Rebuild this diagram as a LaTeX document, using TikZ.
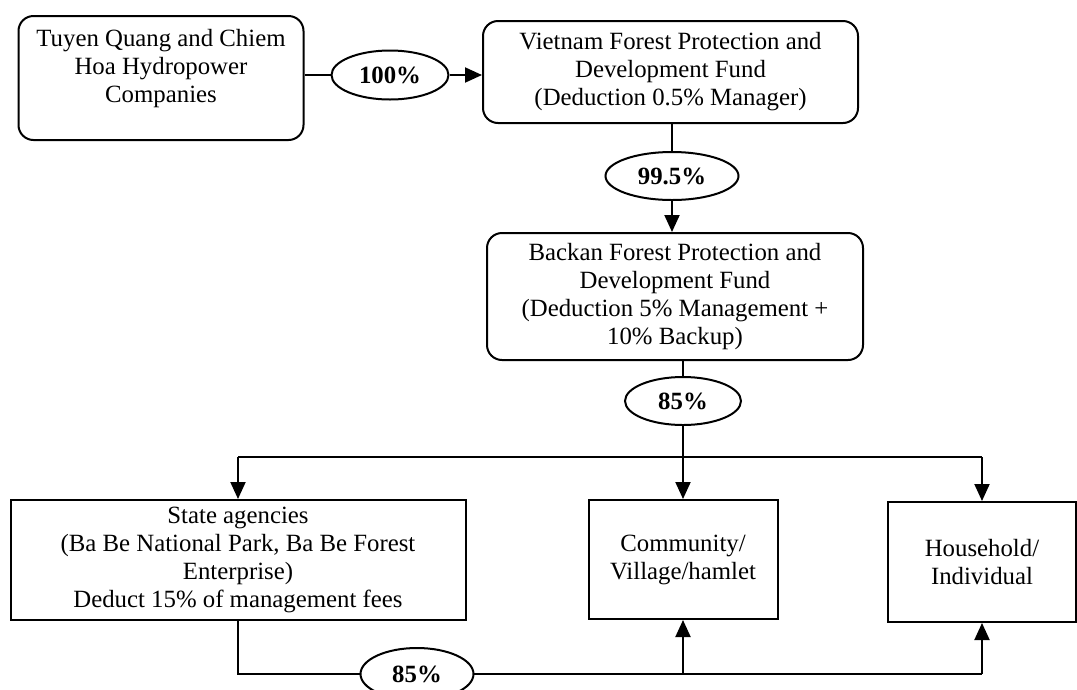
\documentclass[tikz,border=0pt]{standalone}
\usepackage{fontspec}
\setmainfont{Liberation Serif}
\usetikzlibrary{arrows.meta,shapes.geometric}
\begin{document}
\begin{tikzpicture}[x=1pt,y=-1pt,
  every node/.style={font=\fontsize{24.8}{28}\selectfont, align=center, inner sep=0pt},
  rbox/.style={draw, line width=2pt, rounded corners=15pt},
  sbox/.style={draw, line width=2pt},
  pct/.style={draw, ellipse, line width=2pt, fill=white, font=\fontsize{24.8}{28}\selectfont\bfseries},
  conn/.style={line width=2pt},
  arr/.style={line width=2pt, -{Triangle[length=17pt,width=15pt]}}]
\useasboundingbox (0,0) rectangle (1077,689);
% boxes
\node[rbox, minimum width=285, minimum height=124] (tq) at (161,78) {};
\node (tqt) at (161,69) {Tuyen Quang and Chiem\\Hoa Hydropower\\Companies};
\node[rbox, minimum width=375, minimum height=102] (vn) at (670.5,72) {Vietnam Forest Protection and\\Development Fund\\(Deduction 0.5\% Manager)};
\node[rbox, minimum width=376, minimum height=127] (bk) at (675,296.5) {Backan Forest Protection and\\Development Fund\\(Deduction 5\% Management +\\10\% Backup)};
\node[sbox, minimum width=455, minimum height=120] (st) at (238,560) {State agencies\\(Ba Be National Park, Ba Be Forest\\Enterprise)\\Deduct 15\% of management fees};
\node[sbox, minimum width=189, minimum height=119] (cm) at (683,559.5) {Community/\\Village/hamlet};
\node[sbox, minimum width=188, minimum height=120] (hh) at (982,562) {Household/\\Individual};
% ellipses
\node[pct, minimum width=117, minimum height=49] (e1) at (390,75) {100\%};
\node[pct, minimum width=133, minimum height=48] (e2) at (672,176) {99.5\%};
\node[pct, minimum width=116, minimum height=48] (e3) at (683,401) {85\%};
\coordinate (j1) at (683,457);
\coordinate (jl) at (238,457);
\coordinate (jr) at (982,457);
\coordinate (bl) at (238,674);
\coordinate (bc) at (683,674);
\coordinate (br) at (982,674);
% connectors
\draw[conn] (tq.east |- e1) -- (e1.west);
\draw[arr] (e1.east) -- (vn.west |- e1);
\draw[conn] (vn.south -| e2) -- (e2.north);
\draw[arr] (e2.south) -- (bk.north -| e2);
\draw[conn] (bk.south -| e3) -- (e3.north);
\draw[conn] (e3.south) -- (j1);
\draw[arr] (j1) -- (cm.north);
\draw[arr] (jl) -- (st.north);
\draw[arr] (jr) -- (hh.north);
\draw[conn] (jl) -- (jr);
\draw[conn] (st.south) -- (bl) -- (br);
\draw[arr] (bc) -- (cm.south);
\draw[arr] (br) -- (hh.south);
\node[pct, minimum width=113, minimum height=52] (e4) at (417,674) {85\%};
\end{tikzpicture}
\end{document}
